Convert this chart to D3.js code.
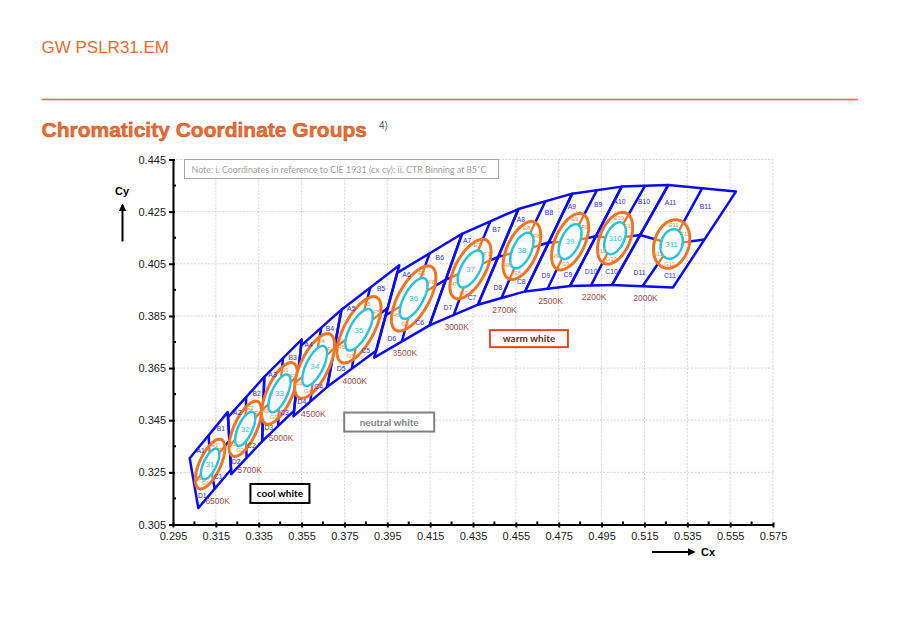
<!DOCTYPE html>
<html>
<head>
<meta charset="utf-8">
<script src="https://cdn.jsdelivr.net/npm/d3@7"></script>
<style>
body { margin: 0; background: #fff; }
text { font-family: "Liberation Sans", Arial, sans-serif; }
</style>
</head>
<body>
<svg id="chart" width="910" height="634"></svg>
<script>
// axis ticks
var xTicks = [0.295, 0.315, 0.335, 0.355, 0.375, 0.395, 0.415, 0.435, 0.455, 0.475, 0.495, 0.515, 0.535, 0.555, 0.575];
var yTicks = [0.305, 0.325, 0.345, 0.365, 0.385, 0.405, 0.425, 0.445];

// CCT groups 1..11
var groupIds = ['1', '2', '3', '4', '5', '6', '7', '8', '9', '10', '11'];
var cctLabels = ['6500K', '5700K', '5000K', '4500K', '4000K', '3500K', '3000K', '2700K', '2500K', '2200K', '2000K'];

// quadrangle corners (cx, cy)
var cornerTL = [[0.3028, 0.3304], [0.3207, 0.3462], [0.3376, 0.3616], [0.3548, 0.3736], [0.3736, 0.3874], [0.3996, 0.4015],
                [0.4299, 0.4165], [0.4562, 0.4260], [0.4813, 0.4319], [0.5044, 0.4346], [0.5261, 0.4352]];
var cornerTR = [[0.3205, 0.3481], [0.3376, 0.3616], [0.3551, 0.3760], [0.3736, 0.3874], [0.4006, 0.4044], [0.4299, 0.4165],
                [0.4562, 0.4260], [0.4813, 0.4319], [0.5044, 0.4346], [0.5261, 0.4352], [0.5577, 0.4327]];
var cornerBR = [[0.3221, 0.3261], [0.3366, 0.3369], [0.3515, 0.3487], [0.3670, 0.3578], [0.3898, 0.3716], [0.4147, 0.3814],
                [0.4373, 0.3893], [0.4593, 0.3944], [0.4803, 0.3965], [0.4999, 0.3969], [0.5283, 0.3959]];
var cornerBL = [[0.3068, 0.3113], [0.3222, 0.3243], [0.3366, 0.3369], [0.3512, 0.3465], [0.3670, 0.3578], [0.3889, 0.3690],
                [0.4147, 0.3814], [0.4373, 0.3893], [0.4593, 0.3944], [0.4803, 0.3965], [0.4999, 0.3969]];
var centers = [[0.3123, 0.3282], [0.3287, 0.3417], [0.3447, 0.3553], [0.3611, 0.3658], [0.3818, 0.3797], [0.4073, 0.3917],
               [0.4338, 0.4030], [0.4578, 0.4101], [0.4803, 0.4135], [0.5013, 0.4148], [0.5277, 0.4126]];

// ellipses: tilt (deg) and semi axes
var ellipseAngle = [58.6, 59.1, 59.4, 57.0, 54.0, 53.0, 53.2, 57.3, 57.0, 57.0, 57.0];
var cyanA = [0.0067, 0.0074, 0.0082, 0.0088, 0.0094, 0.0093, 0.0083, 0.0077, 0.0075, 0.0068, 0.0060];
var cyanB = [0.0029, 0.0032, 0.0035, 0.0038, 0.0040, 0.0041, 0.0041, 0.0041, 0.0041, 0.0041, 0.0048];
var orangeA = [0.0108, 0.0120, 0.0133, 0.0142, 0.0150, 0.0148, 0.0134, 0.0125, 0.0122, 0.0110, 0.0099];
var orangeB = [0.0047, 0.0051, 0.0057, 0.0062, 0.0065, 0.0067, 0.0066, 0.0067, 0.0066, 0.0067, 0.0078];

// annotation boxes: [label, cx, cy]
var whiteBoxes = [['cool white', 0.3449, 0.3169], ['neutral white', 0.3959, 0.3443], ['warm white', 0.4611, 0.3763]];
var noteText = 'Note: i. Coordinates in reference to CIE 1931 (cx cy); ii. CTR Binning at 85\u02DAC';

var BLUE = '#0b0bf5', ORANGE = '#ef7424', CYAN = '#25c4e6', HEAD = '#f26a2c';

var svg = d3.select('#chart');
var x = d3.scaleLinear().domain([0.295, 0.575]).range([173, 773]);
var y = d3.scaleLinear().domain([0.305, 0.445]).range([524.5, 159.5]);

// page header
svg.append('text').attr('x', 41.5).attr('y', 52.5).attr('fill', HEAD)
    .style('font-size', '17px').text('GW PSLR31.EM');
svg.append('line').attr('x1', 41.5).attr('x2', 858).attr('y1', 99.5).attr('y2', 99.5)
    .attr('stroke', HEAD).attr('stroke-width', 1.6);
svg.append('text').attr('x', 41.5).attr('y', 136.5).attr('fill', HEAD)
    .attr('stroke', '#b8552e').attr('stroke-width', 0.5)
    .style('font-size', '21px').style('font-weight', 'bold').text('Chromaticity Coordinate Groups');
svg.append('text').attr('x', 379).attr('y', 129).attr('fill', '#505a6a')
    .style('font-size', '10px').text('4)');

// grid
var grid = svg.append('g');
grid.selectAll('.gx').data(xTicks).enter().append('line')
    .attr('x1', function (d) { return x(d); }).attr('x2', function (d) { return x(d); })
    .attr('y1', y(0.305)).attr('y2', y(0.445))
    .attr('stroke', '#d4d4d4').attr('stroke-dasharray', '2,1.5');
grid.selectAll('.gy').data(yTicks).enter().append('line')
    .attr('x1', x(0.295)).attr('x2', x(0.575))
    .attr('y1', function (d) { return y(d); }).attr('y2', function (d) { return y(d); })
    .attr('stroke', '#d4d4d4').attr('stroke-dasharray', '2,1.5');

function mid(p, q) { return [(p[0] + q[0]) / 2, (p[1] + q[1]) / 2]; }
var line = d3.line().x(function (d) { return x(d[0]); }).y(function (d) { return y(d[1]); });

// bins
var bins = svg.append('g').attr('fill', 'none').attr('stroke', BLUE)
    .attr('stroke-width', 2.5).attr('stroke-linejoin', 'round');
groupIds.forEach(function (g, i) {
    var tl = cornerTL[i], tr = cornerTR[i], br = cornerBR[i], bl = cornerBL[i], c = centers[i];
    bins.append('path').attr('d', line([tl, tr, br, bl]) + 'Z');
    bins.append('path').attr('d', line([mid(tl, tr), c, mid(bl, br)]));
    bins.append('path').attr('d', line([mid(tl, bl), c, mid(tr, br)]));
});

function ellipsePoint(i, a, b, t) {
    var th = ellipseAngle[i] * Math.PI / 180, c = centers[i];
    var px = a * Math.cos(t), py = b * Math.sin(t);
    return [c[0] + px * Math.cos(th) - py * Math.sin(th), c[1] + px * Math.sin(th) + py * Math.cos(th)];
}
function ellipsePath(i, a, b) {
    var pts = d3.range(0, 360, 3).map(function (deg) { return ellipsePoint(i, a, b, deg * Math.PI / 180); });
    return line(pts) + 'Z';
}
// where the ray from the centre towards p crosses the ellipse
function rayHit(i, a, b, p) {
    var th = ellipseAngle[i] * Math.PI / 180, c = centers[i];
    var dx = p[0] - c[0], dy = p[1] - c[1];
    var du = dx * Math.cos(th) + dy * Math.sin(th), dv = -dx * Math.sin(th) + dy * Math.cos(th);
    var s = 1 / Math.sqrt(du * du / (a * a) + dv * dv / (b * b));
    return [c[0] + s * dx, c[1] + s * dy];
}

var ell = svg.append('g');
groupIds.forEach(function (g, i) {
    var tl = cornerTL[i], tr = cornerTR[i], br = cornerBR[i], bl = cornerBL[i];
    ell.append('path').attr('d', ellipsePath(i, orangeA[i], orangeB[i]))
        .attr('fill', '#fff').attr('stroke', ORANGE).attr('stroke-width', 3);
    [mid(tl, tr), mid(tr, br), mid(bl, br), mid(tl, bl)].forEach(function (p) {
        ell.append('path').attr('d', line([rayHit(i, cyanA[i], cyanB[i], p), rayHit(i, orangeA[i], orangeB[i], p)]))
            .attr('stroke', ORANGE).attr('stroke-width', 2.3);
    });
    ell.append('path').attr('d', ellipsePath(i, cyanA[i], cyanB[i]))
        .attr('fill', 'none').attr('stroke', CYAN).attr('stroke-width', 2.5);
});

// labels
var lab = svg.append('g').style('font-family', '"DejaVu Sans", sans-serif');
groupIds.forEach(function (g, i) {
    var tl = cornerTL[i], tr = cornerTR[i], br = cornerBR[i], bl = cornerBL[i], c = centers[i];
    var quads = {
        A: [tl, mid(tl, tr), c, mid(tl, bl)],
        B: [mid(tl, tr), tr, mid(tr, br), c],
        C: [c, mid(tr, br), br, mid(bl, br)],
        D: [mid(tl, bl), c, mid(bl, br), bl]
    };
    var shift = { A: [0, -10], B: [2, -9], C: [-3, 11], D: [-2, 10] };
    Object.keys(quads).forEach(function (k) {
        var q = quads[k];
        var px = d3.mean(q, function (p) { return x(p[0]); }) + shift[k][0];
        var py = d3.mean(q, function (p) { return y(p[1]); }) + shift[k][1];
        lab.append('text').attr('x', px).attr('y', py).attr('text-anchor', 'middle').attr('dy', '0.35em')
            .attr('fill', '#2b2bf0').style('font-size', '6.8px').text(k + g);
    });
    // ring quadrant labels
    var ring = { E: 32, F: -32, G: 212, H: 148 };
    Object.keys(ring).forEach(function (k) {
        var p = ellipsePoint(i, (orangeA[i] + cyanA[i]) / 2, (orangeB[i] + cyanB[i]) / 2, ring[k] * Math.PI / 180);
        lab.append('text').attr('x', x(p[0])).attr('y', y(p[1])).attr('text-anchor', 'middle').attr('dy', '0.35em')
            .attr('fill', '#f08a40').style('font-size', '6px').text(k + g);
    });
    lab.append('text').attr('x', x(c[0])).attr('y', y(c[1])).attr('text-anchor', 'middle').attr('dy', '0.35em')
        .attr('fill', CYAN).style('font-size', '8px').text('3' + g);
    var bm = mid(bl, br);
    lab.append('text').attr('x', x(bm[0]) + 3).attr('y', y(bm[1]) + 12).attr('text-anchor', 'middle').attr('dy', '0.35em')
        .attr('fill', '#a44a4a').style('font-size', '8.5px').text(cctLabels[i]);
});

// annotation boxes
var boxStyle = { 'cool white': ['#000', '#000', 59, 19], 'neutral white': ['#808080', '#808080', 90, 19], 'warm white': ['#e8481c', '#6b2b20', 78, 17] };
whiteBoxes.forEach(function (b) {
    var st = boxStyle[b[0]];
    svg.append('rect').attr('x', x(b[1]) - st[2] / 2).attr('y', y(b[2]) - st[3] / 2).attr('width', st[2]).attr('height', st[3])
        .attr('fill', '#fff').attr('stroke', st[0]).attr('stroke-width', 2);
    svg.append('text').attr('x', x(b[1])).attr('y', y(b[2])).attr('dy', '0.35em').attr('text-anchor', 'middle')
        .attr('fill', st[1]).style('font-family', 'Lato, sans-serif').style('font-weight', 'bold').style('font-size', '10px')
        .text(b[0]);
});

// note box
svg.append('rect').attr('x', 184.5).attr('y', y(0.445)).attr('width', 314).attr('height', 19)
    .attr('fill', '#fff').attr('stroke', '#a6a6a6').attr('stroke-width', 1);
svg.append('text').attr('x', 191.5).attr('y', 172.5).attr('fill', '#a0a0a0')
    .style('font-family', 'Lato, sans-serif').style('font-size', '8.9px').text(noteText);

// axes
var minorX = d3.range(0, xTicks.length - 1).map(function (k) { return (xTicks[k] + xTicks[k + 1]) / 2; });
var minorY = d3.range(0, yTicks.length - 1).map(function (k) { return (yTicks[k] + yTicks[k + 1]) / 2; });
var xAxis = svg.append('g').attr('transform', 'translate(0,' + y(0.305) + ')')
    .call(d3.axisBottom(x).tickValues(xTicks).tickFormat(d3.format('.3f')).tickSizeInner(3).tickSizeOuter(0));
var yAxis = svg.append('g').attr('transform', 'translate(' + x(0.295) + ',0)')
    .call(d3.axisLeft(y).tickValues(yTicks).tickFormat(d3.format('.3f')).tickSizeInner(4).tickSizeOuter(0));
[xAxis, yAxis].forEach(function (ax) {
    ax.select('.domain').attr('stroke', '#000').attr('stroke-width', 2);
    ax.selectAll('.tick line').attr('stroke', '#000').attr('stroke-width', 2);
    ax.selectAll('.tick text').style('font-family', '"Liberation Sans", Arial, sans-serif')
        .style('font-size', '11px').attr('fill', '#1a1a1a');
});
xAxis.selectAll('.tick line').attr('y1', -2);
yAxis.selectAll('.tick line').attr('x1', 2);
xAxis.selectAll('.tick text').attr('dy', '0.9em');
svg.append('g').selectAll('line').data(minorX).enter().append('line')
    .attr('x1', function (d) { return x(d); }).attr('x2', function (d) { return x(d); })
    .attr('y1', y(0.305) - 3).attr('y2', y(0.305)).attr('stroke', '#000').attr('stroke-width', 2);
svg.append('g').selectAll('line').data(minorY).enter().append('line')
    .attr('y1', function (d) { return y(d); }).attr('y2', function (d) { return y(d); })
    .attr('x1', x(0.295)).attr('x2', x(0.295) + 3).attr('stroke', '#000').attr('stroke-width', 2);

// axis titles with arrows
svg.append('defs').append('marker').attr('id', 'arr').attr('viewBox', '0 0 10 10').attr('refX', 8).attr('refY', 5)
    .attr('markerWidth', 4).attr('markerHeight', 4).attr('orient', 'auto')
    .append('path').attr('d', 'M0,0L10,5L0,10Z').attr('fill', '#000');
svg.append('text').attr('x', 115).attr('y', 195).style('font-size', '11px').style('font-weight', 'bold').text('Cy');
svg.append('line').attr('x1', 122.5).attr('x2', 122.5).attr('y1', 241.5).attr('y2', 205)
    .attr('stroke', '#000').attr('stroke-width', 2).attr('marker-end', 'url(#arr)');
svg.append('text').attr('x', 701).attr('y', 556).style('font-size', '11px').style('font-weight', 'bold').text('Cx');
svg.append('line').attr('x1', 652).attr('x2', 694).attr('y1', 552).attr('y2', 552)
    .attr('stroke', '#000').attr('stroke-width', 2).attr('marker-end', 'url(#arr)');
</script>
</body>
</html>
